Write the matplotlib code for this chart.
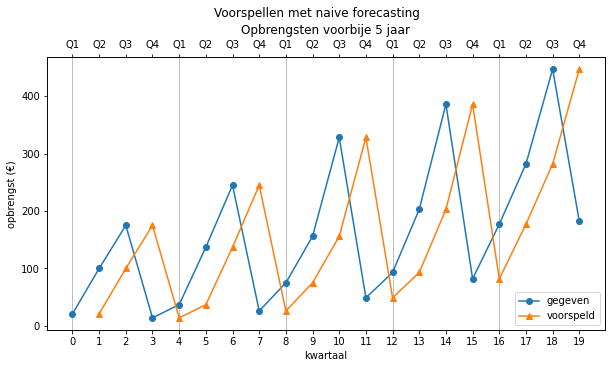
import numpy as np
import matplotlib
matplotlib.use("Agg")
import matplotlib.pyplot as plt

# data
kwartaal = list(range(20))
gegeven = [21, 100, 175, 14, 37, 137, 245, 26, 75, 156,
           328, 49, 93, 203, 386, 82, 177, 282, 447, 182]
voorspeld_x = kwartaal[1:]
voorspeld = gegeven[:-1]
kwartaal_labels = ["Q1", "Q2", "Q3", "Q4"] * 5
jaar_grenzen = [0, 4, 8, 12, 16]

fig, ax = plt.subplots(figsize=(8.5, 5.1), dpi=72)

ax.plot(kwartaal, gegeven, marker="o", label="gegeven")
ax.plot(voorspeld_x, voorspeld, marker="^", label="voorspeld")
for g in jaar_grenzen:
    ax.axvline(g, color="#b0b0b0", linewidth=0.8, zorder=0)

ax.set_xticks(kwartaal)
ax.set_xlabel("kwartaal")
ax.set_ylabel("opbrengst (€)")
ax.legend(loc="lower right")

ax2 = ax.twiny()
ax2.set_xlim(ax.get_xlim())
ax2.set_xticks(kwartaal)
ax2.set_xticklabels(kwartaal_labels)

ax2.set_title("Opbrengsten voorbije 5 jaar")
fig.suptitle("Voorspellen met naive forecasting", x=0.518, y=0.982)

fig.subplots_adjust(left=0.077, right=0.988, top=0.845, bottom=0.1)
fig.savefig("out.png")
